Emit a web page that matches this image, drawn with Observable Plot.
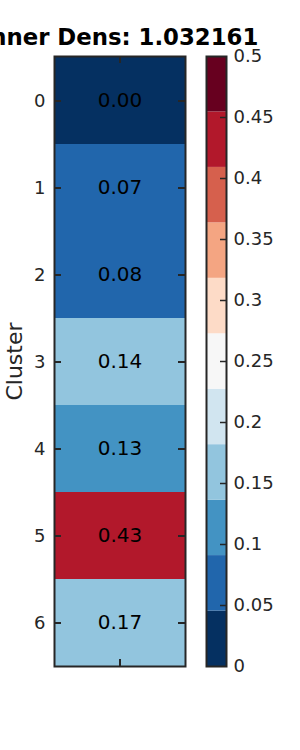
<!DOCTYPE html>
<html>
<head>
<meta charset="utf-8">
<script src="https://cdn.jsdelivr.net/npm/d3@7"></script>
<script src="https://cdn.jsdelivr.net/npm/@observablehq/plot@0.6"></script>
<style>
  html, body { margin: 0; padding: 0; background: white; }
  #wrap { position: relative; width: 300px; height: 750px; overflow: hidden; font-family: "DejaVu Sans", sans-serif; }
  #wrap svg { position: absolute; left: 0; top: 0; background: transparent; overflow: visible; }
</style>
</head>
<body>
<div id="wrap"></div>
<script>
// ---- data ----
const clusters = [0, 1, 2, 3, 4, 5, 6];
const values = [0.00, 0.07, 0.08, 0.14, 0.13, 0.43, 0.17];
const colorbarTicks = [0, 0.05, 0.1, 0.15, 0.2, 0.25, 0.3, 0.35, 0.4, 0.45, 0.5];
const colorbarTickLabels = ["0", "0.05", "0.1", "0.15", "0.2", "0.25", "0.3", "0.35", "0.4", "0.45", "0.5"];
const palette = ["#053061", "#2166ac", "#4393c3", "#92c5de", "#d1e5f0", "#f7f7f7",
                 "#fddbc7", "#f4a582", "#d6604d", "#b2182b", "#67001f"];
const vmin = 0, vmax = 0.5;
const title = "Inner Dens: 1.032161";
const yLabel = "Cluster";

// ---- derived tables ----
const n = palette.length;
const thresholds = d3.range(1, n).map(k => vmin + (vmax - vmin) * k / n);
const rows = clusters.map((c, i) => ({cluster: c, value: values[i], label: values[i].toFixed(2)}));
const bands = palette.map((c, i) => ({lo: vmin + (vmax - vmin) * i / n, hi: vmin + (vmax - vmin) * (i + 1) / n, color: c}));
const cbTicks = colorbarTicks.map((v, i) => ({v, label: colorbarTickLabels[i]}));

const ink = "#262626";
const W = 300, H = 750;

const heat = Plot.plot({
  width: W, height: H,
  marginLeft: 54, marginRight: 115, marginTop: 56, marginBottom: 84,
  style: {background: "transparent", overflow: "visible", fontFamily: "DejaVu Sans, sans-serif"},
  x: {type: "band", domain: [""], padding: 0, axis: null},
  y: {type: "band", domain: clusters, padding: 0, axis: null},
  color: {type: "threshold", domain: thresholds, range: palette},
  marks: [
    Plot.cell(rows, {x: () => "", y: "cluster", fill: "value"}),
    Plot.text(rows, {x: () => "", y: "cluster", text: "label", fontSize: 20, fill: "black"}),
    Plot.axisY({anchor: "left", tickSize: 0, tickPadding: 9, fontSize: 18, color: ink, label: null}),
    Plot.tickY(clusters, {y: d => d, insetRight: 124, stroke: ink, strokeWidth: 2}),
    Plot.tickY(clusters, {y: d => d, insetLeft: 124, stroke: ink, strokeWidth: 2}),
    Plot.tickX([""], {x: d => d, insetBottom: 603, stroke: ink, strokeWidth: 2}),
    Plot.tickX([""], {x: d => d, insetTop: 603, stroke: ink, strokeWidth: 2}),
    Plot.frame({stroke: ink, strokeWidth: 2}),
    Plot.text([title], {frameAnchor: "top", lineAnchor: "bottom", dy: -12, fontSize: 22.8, fontWeight: "bold", fill: "black"}),
    Plot.text([yLabel], {frameAnchor: "left", textAnchor: "middle", dx: -40, rotate: -90, fontSize: 22, fill: ink})
  ]
});

const cbar = Plot.plot({
  width: W, height: H,
  marginLeft: 206, marginRight: 74, marginTop: 56, marginBottom: 84,
  style: {background: "transparent", overflow: "visible", fontFamily: "DejaVu Sans, sans-serif"},
  y: {type: "linear", domain: [vmin, vmax], axis: null},
  marks: [
    Plot.rect(bands, {y1: "lo", y2: "hi", fill: "color"}),
    Plot.tickY(cbTicks.slice(1, -1), {y: "v", insetLeft: 14, stroke: ink, strokeWidth: 1.5}),
    Plot.text(cbTicks, {y: "v", text: "label", frameAnchor: "right", textAnchor: "start", dx: 7, fontSize: 18, fill: ink}),
    Plot.frame({stroke: ink, strokeWidth: 2})
  ]
});

const wrap = document.getElementById("wrap");
wrap.appendChild(heat);
wrap.appendChild(cbar);
</script>
</body>
</html>
